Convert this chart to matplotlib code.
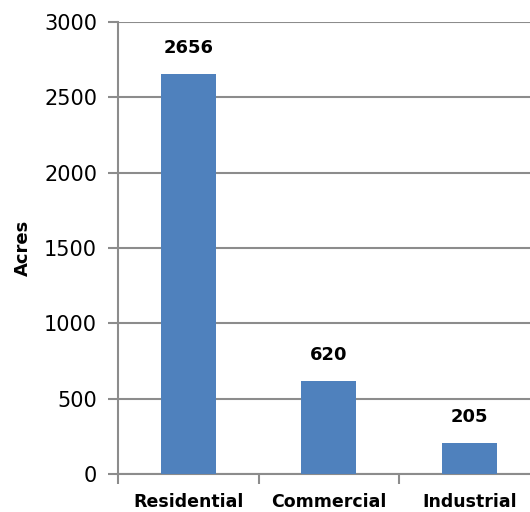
import matplotlib.pyplot as plt

categories = ["Residential", "Commercial", "Industrial"]
acres = [2656, 620, 205]
yticks = [0, 500, 1000, 1500, 2000, 2500, 3000]

W, H = 530, 512
fig = plt.figure(figsize=(W / 100, H / 100), dpi=100)
# axes runs a bit past the right edge of the image, like the original
ax = fig.add_axes([118 / W, 38 / H, 421.5 / W, 452 / H])

grey = "#8c8c8c"
ax.bar(range(len(categories)), acres, width=0.39, color="#4f81bd", zorder=3)
for i, v in enumerate(acres):
    ax.annotate(f"{v}", (i, v), xytext=(0, 12), textcoords="offset points",
                ha="center", va="bottom", fontsize=13, fontweight="bold")

ax.set_xlim(-0.5, 2.5)
ax.set_ylim(0, 3000)
ax.set_yticks(yticks)
ax.yaxis.grid(True, color=grey, linewidth=1.5, zorder=0)
ax.set_axisbelow(True)

ax.set_xticks([-0.5, 0.5, 1.5])
ax.set_xticklabels([])
ax.set_xticks(range(len(categories)), minor=True)
ax.set_xticklabels(categories, minor=True, fontsize=12.5, fontweight="bold")
ax.tick_params(axis="x", which="minor", length=0, pad=14)
ax.tick_params(axis="x", which="major", length=7, width=1.5, color=grey)
ax.tick_params(axis="y", length=7, width=1.5, color=grey, labelsize=15, pad=8)

for side in ["top", "right"]:
    ax.spines[side].set_visible(False)
for side in ["left", "bottom"]:
    ax.spines[side].set_color(grey)
    ax.spines[side].set_linewidth(1.5)

ax.set_ylabel("Acres", fontsize=13, fontweight="bold", labelpad=9)

fig.savefig("out.png", dpi=100)
